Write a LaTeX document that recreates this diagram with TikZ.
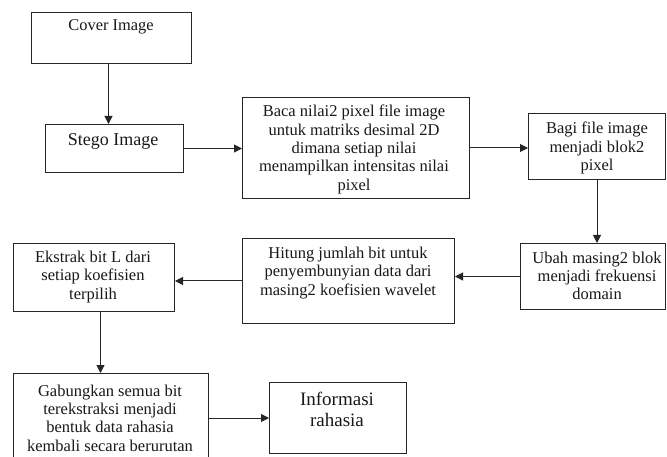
\documentclass[tikz,border=0pt]{standalone}
\usepackage{fontspec}
\setmainfont{Liberation Serif}
\usetikzlibrary{arrows.meta,calc}
\begin{document}
\begin{tikzpicture}[x=1pt,y=-1pt,
  box/.style={draw=black!85, line width=1pt, inner sep=0pt, anchor=north west},
  arr/.style={draw=black!85, line width=1pt, -{Triangle[length=8pt,width=8pt]}},
  txt/.style={align=center, inner sep=0pt, text=black!90, font=\fontsize{16.5}{18.3}\selectfont}]
\clip (0,0) rectangle (667,457);
\fill[white] (0,0) rectangle (667,457);
% boxes
\node[box, minimum width=160pt, minimum height=51pt] (cover) at (31,12) {};
\node[box, minimum width=138pt, minimum height=48pt] (stego) at (45,124) {};
\node[box, minimum width=227pt, minimum height=101pt] (baca) at (242,97) {};
\node[box, minimum width=137pt, minimum height=66pt] (bagi) at (528,113) {};
\node[box, minimum width=145pt, minimum height=66pt] (ubah) at (520,243) {};
\node[box, minimum width=212pt, minimum height=85pt] (hitung) at (242,238) {};
\node[box, minimum width=161pt, minimum height=68pt] (ekstrak) at (13,243) {};
\node[box, minimum width=195pt, minimum height=99pt] (gabung) at (13,373) {};
\node[box, minimum width=137pt, minimum height=71pt] (info) at (269,382) {};
% texts
\node[txt, font=\fontsize{16.4}{18}\selectfont] (tcover) at (111,27) {Cover Image};
\node[txt, font=\fontsize{18}{20}\selectfont] (tstego) at (113,141) {Stego Image};
\node[txt] (tbaca) at (354,149.5) {Baca nilai2 pixel file image\\untuk matriks desimal 2D\\dimana setiap nilai\\menampilkan intensitas nilai\\pixel};
\node[txt] (tbagi) at (597,148) {Bagi file image\\menjadi blok2\\pixel};
\node[txt] (tubah) at (597,276) {Ubah masing2 blok\\menjadi frekuensi\\domain};
\node[txt] (thitung) at (348,273) {Hitung jumlah bit untuk\\penyembunyian data dari\\masing2 koefisien wavelet};
\node[txt] (tekstrak) at (93,277) {Ekstrak bit L dari\\setiap koefisien\\terpilih};
\node[txt] (tgabung) at (110,418) {Gabungkan semua bit\\terekstraksi menjadi\\bentuk data rahasia\\kembali secara berurutan};
\node[txt, font=\fontsize{19}{21}\selectfont] (tinfo) at (337,409) {Informasi\\rahasia};
% connectors
\draw[arr] ([xshift=-3pt]cover.south) -- ([xshift=-6pt]stego.north);
\draw[arr] (stego.east) -- (stego.east -| baca.west);
\draw[arr] (baca.east) -- (baca.east -| bagi.west);
\draw[arr] (bagi.south) -- (bagi.south |- ubah.north);
\draw[arr] (ubah.west) -- (ubah.west -| hitung.east);
\draw[arr] (hitung.west) -- (hitung.west -| ekstrak.east);
\draw[arr] ([xshift=6.5pt]ekstrak.south) -- ([xshift=6.5pt]ekstrak.south |- gabung.north);
\draw[arr] (info.west -| gabung.east) -- (info.west);
\end{tikzpicture}
\end{document}
